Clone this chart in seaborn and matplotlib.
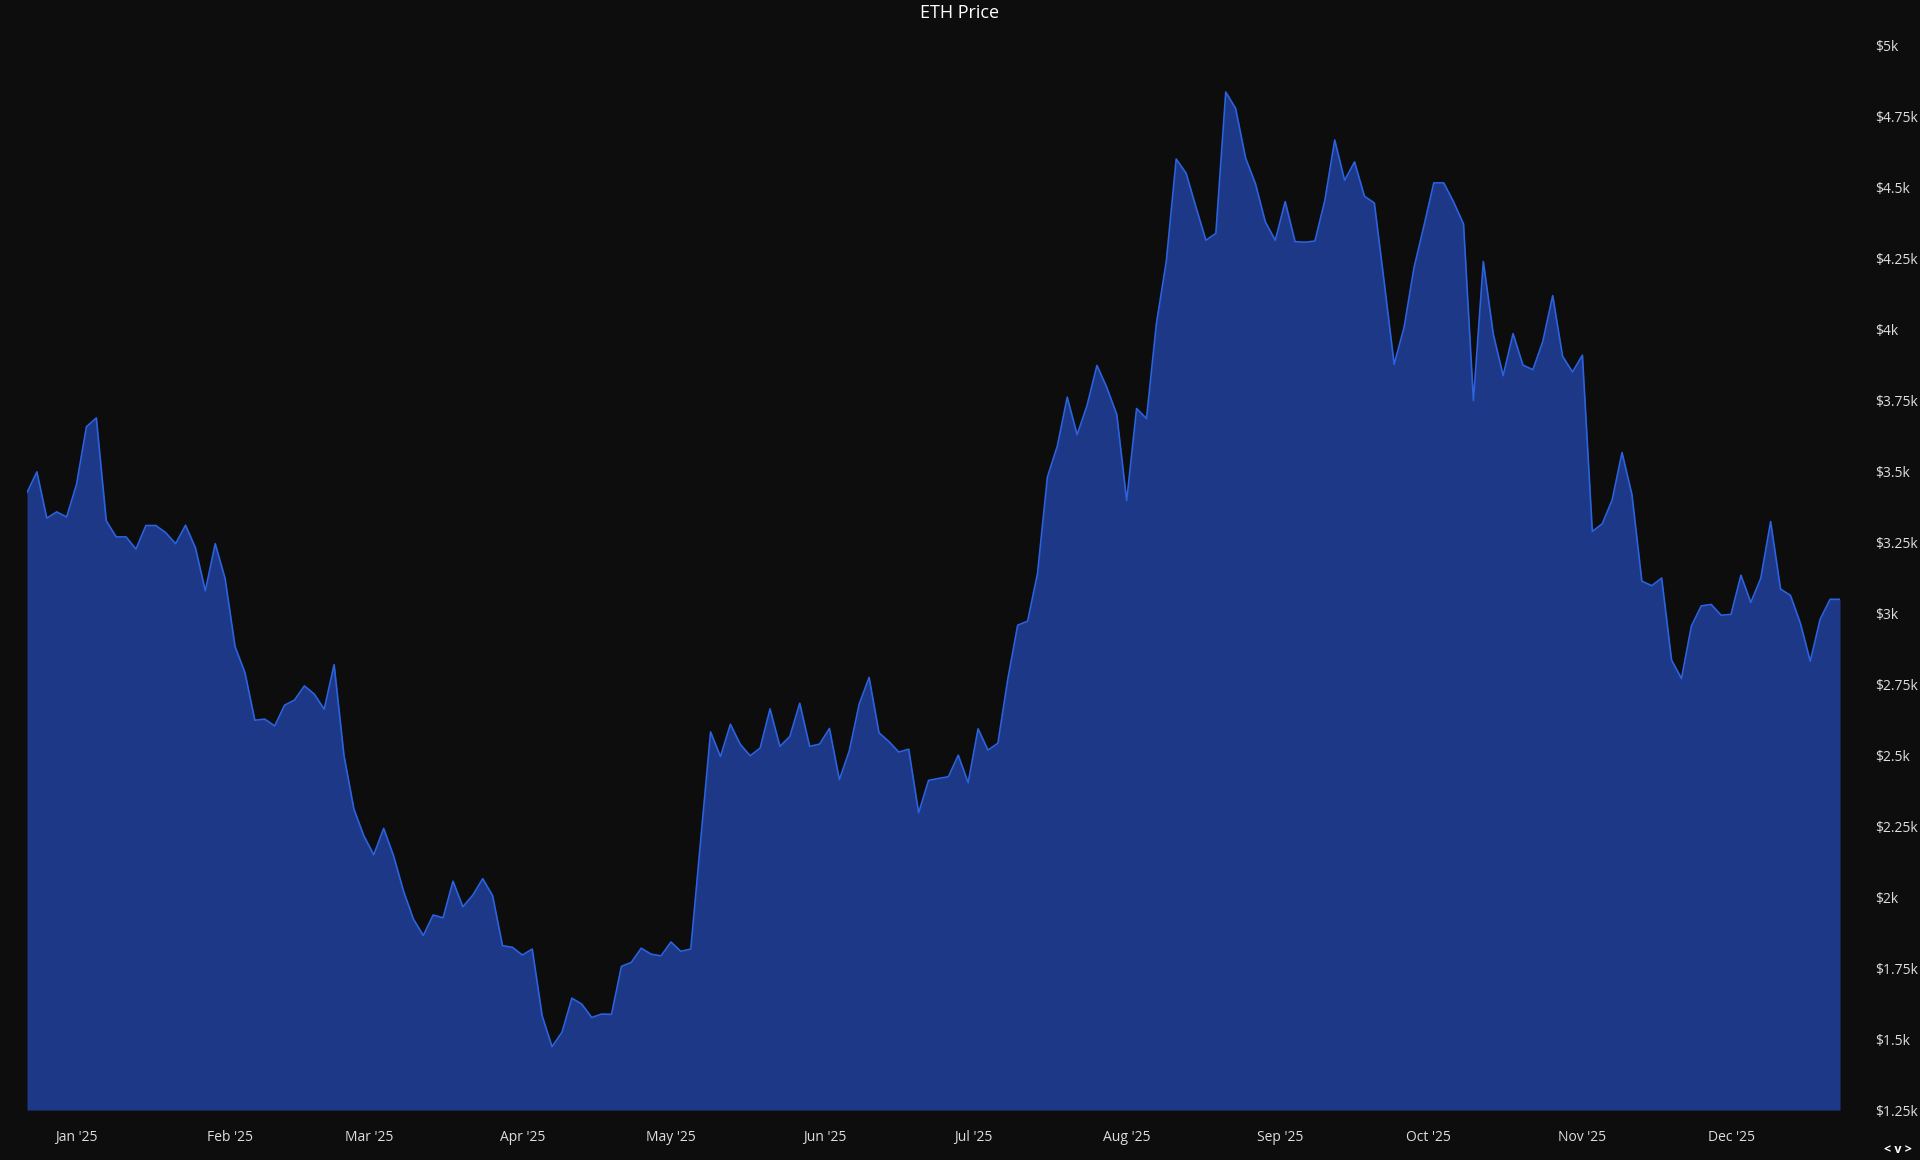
import pandas as pd
import matplotlib.pyplot as plt
import matplotlib.dates as mdates
import matplotlib.ticker as mticker
import seaborn as sns

# ETH price, one reading every 2 days
start_date = '2024-12-22'
prices = [
    3425, 3498, 3335, 3357, 3339, 3454, 3657, 3688, 3326, 3269,
    3269, 3226, 3309, 3309, 3284, 3245, 3310, 3231, 3079, 3245,
    3122, 2883, 2791, 2623, 2627, 2603, 2676, 2694, 2744, 2715,
    2662, 2819, 2498, 2310, 2216, 2149, 2242, 2146, 2022, 1923,
    1865, 1937, 1927, 2056, 1966, 2007, 2065, 2005, 1829, 1823,
    1796, 1817, 1582, 1473, 1524, 1644, 1623, 1576, 1588, 1587,
    1756, 1770, 1820, 1799, 1793, 1842, 1809, 1817, 2200, 2582,
    2495, 2609, 2538, 2498, 2525, 2663, 2531, 2566, 2683, 2531,
    2539, 2594, 2414, 2515, 2680, 2774, 2579, 2548, 2511, 2521,
    2297, 2411, 2418, 2424, 2500, 2403, 2593, 2518, 2542, 2768,
    2958, 2972, 3140, 3480, 3589, 3761, 3629, 3732, 3873, 3795,
    3700, 3397, 3721, 3686, 4020, 4240, 4600, 4550, 4430, 4314,
    4338, 4836, 4778, 4604, 4513, 4378, 4314, 4450, 4309, 4307,
    4311, 4454, 4667, 4525, 4590, 4469, 4445, 4164, 3877, 4007,
    4217, 4364, 4516, 4516, 4449, 4371, 3749, 4239, 3984, 3837,
    3985, 3874, 3858, 3957, 4119, 3905, 3850, 3909, 3288, 3315,
    3399, 3566, 3418, 3113, 3097, 3124, 2835, 2770, 2955, 3026,
    3031, 2993, 2996, 3134, 3038, 3123, 3323, 3085, 3063, 2965,
    2831, 2979, 3049, 3049,
]
y_ticks = [1250, 1500, 1750, 2000, 2250, 2500, 2750, 3000, 3250,
           3500, 3750, 4000, 4250, 4500, 4750, 5000]

df = pd.DataFrame({
    'Date': pd.date_range(start_date, periods=len(prices), freq='2D'),
    'Price': prices,
})

bg = '#0d0d0d'
fill_color = '#1e3888'
line_color = '#2a62e0'
text_color = '#dedede'

sns.set_theme(style='dark')
plt.rcParams['font.family'] = ['Open Sans', 'DejaVu Sans']

fig = plt.figure(figsize=(19.2, 11.605), dpi=100, facecolor=bg)
ax = fig.add_axes([27 / 1920, 1 - 1111 / 1161, 1813 / 1920, 1065 / 1161])
ax.set_facecolor(bg)

ax.fill_between(df['Date'], df['Price'], 1250, color=fill_color, linewidth=0)
sns.lineplot(data=df, x='Date', y='Price', ax=ax, color=line_color, linewidth=1.2)

ax.set_xlim(df['Date'].iloc[0], df['Date'].iloc[-1])
ax.set_ylim(1250, 5000)
ax.set_yticks(y_ticks)
ax.yaxis.set_major_formatter(mticker.FuncFormatter(lambda v, p: f'${v / 1000:g}k'))
ax.yaxis.tick_right()
ax.xaxis.set_major_locator(mdates.MonthLocator())
ax.xaxis.set_major_formatter(mdates.DateFormatter("%b '%y"))

ax.tick_params(axis='y', length=0, pad=25, labelsize=10, labelcolor=text_color)
ax.tick_params(axis='x', length=0, pad=14, labelsize=10, labelcolor=text_color)
for lbl in ax.get_yticklabels():
    lbl.set_horizontalalignment('left')
ax.set_xlabel('')
ax.set_ylabel('')
ax.grid(False)
for s in ax.spines.values():
    s.set_visible(False)

fig.text(0.5, 1 - 13 / 1161, 'ETH Price', ha='center', va='center',
         color='white', fontsize=13)
fig.text(1898 / 1920, 1 - 1150 / 1161, '< v >', ha='center', va='center',
         color='white', fontsize=9, fontweight='bold')

plt.savefig('out.png', dpi=100, facecolor=bg)
